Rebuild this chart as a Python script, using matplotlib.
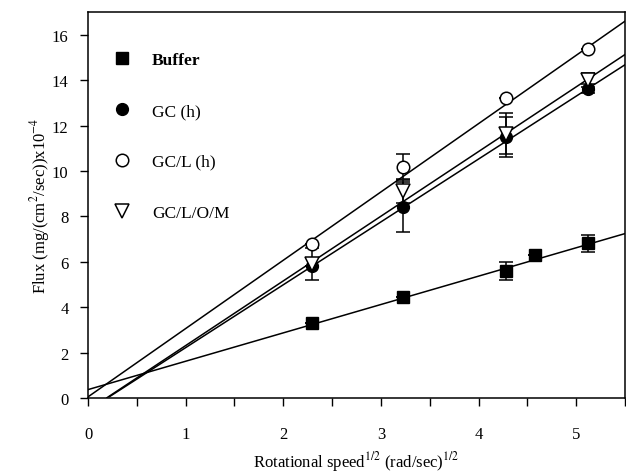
import numpy as np
from matplotlib import pyplot as plt
from matplotlib.ticker import MultipleLocator

plt.rcParams['font.family'] = ['Liberation Serif', 'DejaVu Serif']
plt.rcParams['mathtext.fontset'] = 'stix'

# rotational speed^1/2 values
x_vals = [2.29, 3.23, 4.28, 5.12]
buffer_x = [2.29, 3.23, 4.28, 4.58, 5.12]

buffer_y = [3.31, 4.45, 5.58, 6.31, 6.82]
buffer_err = [0.0, 0.0, 0.4, 0.0, 0.38]

gc_y = [5.8, 8.42, 11.5, 13.62]
gc_err = [0.0, 1.1, 0.9, 0.2]

gcl_y = [6.79, 10.19, 13.2, 15.37]
gcl_err = [0.0, 0.55, 0.0, 0.0]

gclom_y = [5.9, 9.1, 11.65, 14.0]
gclom_err = [0.7, 0.5, 0.9, 0.3]

# fitted lines (slope, intercept) as drawn in the figure
fits = {
    'Buffer': (1.25, 0.37),
    'GC (h)': (2.77, -0.55),
    'GC/L (h)': (3.01, 0.05),
    'GC/L/O/M': (2.85, -0.54),
}

fig = plt.figure(figsize=(6.26, 4.77), dpi=100)
ax = fig.add_axes([0.1406, 0.1635, 0.858, 0.809])

xs = np.linspace(0, 5.5, 200)
for name, (m, b) in fits.items():
    ys = m * xs + b
    mask = ys >= 0
    ax.plot(xs[mask], ys[mask], color='black', lw=1.1, zorder=1)

ms = 8.5
err_kw = dict(ecolor='black', elinewidth=1.1, capsize=5, capthick=1.1, linestyle='none')
ax.errorbar(buffer_x, buffer_y, yerr=buffer_err, marker='s', mfc='black', mec='black', ms=ms,
            label='Buffer', **err_kw)
ax.errorbar(x_vals, gc_y, yerr=gc_err, marker='o', mfc='black', mec='black', ms=ms,
            label='GC (h)', **err_kw)
ax.errorbar(x_vals, gcl_y, yerr=gcl_err, marker='o', mfc='white', mec='black', mew=1.1, ms=ms + 0.5,
            label='GC/L (h)', **err_kw)
ax.errorbar(x_vals, gclom_y, yerr=gclom_err, marker='v', mfc='white', mec='black', mew=1.1, ms=ms + 1,
            label='GC/L/O/M', **err_kw)

ax.set_xlim(0, 5.5)
ax.set_ylim(0, 17)
ax.xaxis.set_major_locator(MultipleLocator(1))
ax.xaxis.set_minor_locator(MultipleLocator(0.5))
ax.yaxis.set_major_locator(MultipleLocator(2))
ax.tick_params(axis='both', which='both', direction='out', length=6, width=1, labelsize=12, pad=8)
ax.tick_params(axis='x', pad=14)
for s in ax.spines.values():
    s.set_linewidth(1.1)

ax.set_xlabel('Rotational speed$^{1/2}$ (rad/sec)$^{1/2}$', fontsize=12)
ax.set_ylabel('Flux (mg/(cm$^{2}$/sec))x10$^{-4}$', fontsize=12)
ax.xaxis.set_label_coords(0.5, -0.163)
ax.yaxis.set_label_coords(-0.089, 0.5)
ax.xaxis.label.set_verticalalignment('center')
ax.yaxis.label.set_verticalalignment('center')

handles, labels = ax.get_legend_handles_labels()
handles = [h[0] for h in handles]
leg = ax.legend(handles, labels, loc='upper left', frameon=False, fontsize=12.5,
                labelspacing=2.0, handletextpad=1.2, handlelength=1.0,
                borderaxespad=0.0, bbox_to_anchor=(0.035, 0.915))
for t in leg.get_texts():
    if t.get_text() == 'Buffer':
        t.set_fontweight('bold')

fig.savefig('out.png', dpi=100)
